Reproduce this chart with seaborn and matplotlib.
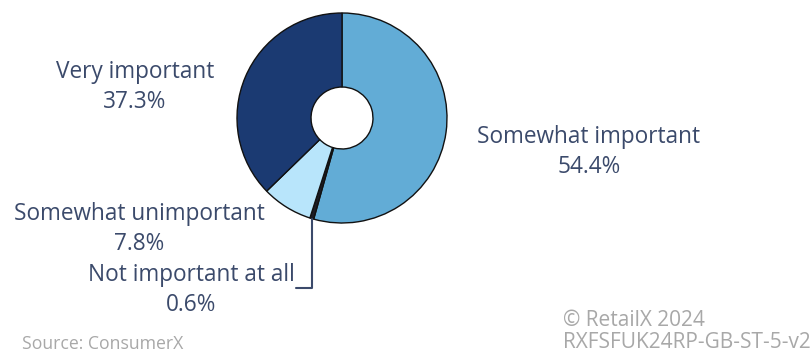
import numpy as np
import matplotlib
matplotlib.use("Agg")
import matplotlib.pyplot as plt
import seaborn as sns

sns.set_theme(style="white")
plt.rcParams["font.family"] = ["Open Sans", "DejaVu Sans"]

# data (clockwise from 12 o'clock)
categories = ["Somewhat important", "Not important at all", "Somewhat unimportant", "Very important"]
shares = [54.4, 0.6, 7.8, 37.3]
colors = ["#62acd6", "#1c1c24", "#b8e5fb", "#1b3a72"]

W, H = 812, 353
fig = plt.figure(figsize=(W / 100, H / 100), dpi=100)

# pie axes: centre (342,118) px, radius 105 px
cx, cy, r = 342, 118, 105
ax = fig.add_axes([(cx - r) / W, (H - cy - r) / H, 2 * r / W, 2 * r / H])
wedges, _ = ax.pie(shares, colors=colors, startangle=90, counterclock=False,
                   radius=1, wedgeprops=dict(width=0.705, edgecolor="#111111", linewidth=1.0))
ax.set_xlim(-1, 1)
ax.set_ylim(-1, 1)
ax.set_aspect("equal")
ax.axis("off")

txt = "#3b4a6b"
fs = 16.3

def label(x, y, name, val, ha="center"):
    fig.text(x / W, 1 - y / H, name, ha=ha, va="center", fontsize=fs, color=txt)
    fig.text(x / W, 1 - (y + 30) / H, f"{val}%", ha=ha, va="center", fontsize=fs, color=txt)

label(135, 72, categories[3], shares[3])
label(589, 137, categories[0], shares[0])
label(139, 214, categories[2], shares[2])
label(191, 275, categories[1], shares[1])

# leader line for the tiny slice
w = wedges[1]
mid = np.deg2rad((w.theta1 + w.theta2) / 2)
x0, y0 = np.cos(mid), np.sin(mid)
yb = -(288 - cy) / r
xe = (296 - cx) / r
ax.plot([x0, x0, xe], [y0, yb, yb], color=txt, lw=1.5, clip_on=False)

gray = "#a8a8a8"
fig.text(22 / W, 1 - 344 / H, "Source: ConsumerX", ha="left", va="center", fontsize=12.7, color=gray)
fig.text(563 / W, 1 - 320 / H, "© RetailX 2024", ha="left", va="center", fontsize=15, color=gray)
fig.text(563 / W, 1 - 343 / H, "RXFSFUK24RP-GB-ST-5-v2", ha="left", va="center", fontsize=15, color=gray)

fig.savefig("out.png", dpi=100)
